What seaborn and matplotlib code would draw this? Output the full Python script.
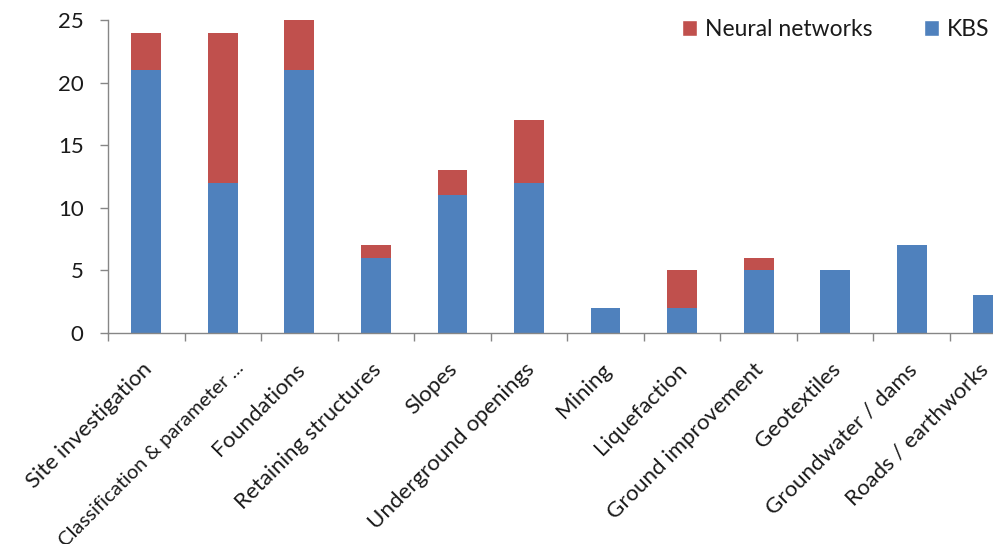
import matplotlib
matplotlib.use("Agg")
import matplotlib.pyplot as plt
import matplotlib.transforms as mtransforms
import seaborn as sns
import pandas as pd
import numpy as np
from matplotlib.patches import Patch

categories = [
    "Site investigation", "Classification & parameter ...", "Foundations",
    "Retaining structures", "Slopes", "Underground openings", "Mining",
    "Liquefaction", "Ground improvement", "Geotextiles",
    "Groundwater / dams", "Roads / earthworks",
]
kbs = [21, 12, 21, 6, 11, 12, 2, 2, 5, 5, 7, 3]
neural_networks = [3, 12, 4, 1, 2, 5, 0, 3, 1, 0, 0, 0]
y_ticks = [0, 5, 10, 15, 20, 25]

BLUE = "#4F81BD"
RED = "#C0504D"
AXIS_GRAY = "#868686"
TEXT = "#1a1a1a"

sns.set_theme(style="white")
plt.rcParams["font.family"] = ["Lato", "DejaVu Sans"]

df = pd.DataFrame({"category": categories, "KBS": kbs, "NN": neural_networks})
df["total"] = df["KBS"] + df["NN"]

fig = plt.figure(figsize=(9.93, 5.44), dpi=100)
ax = fig.add_axes([0.1088, 0.388, 0.925, 0.575])

# stacked look: full totals in red, KBS share drawn over it in blue
sns.barplot(data=df, x="category", y="total", color=RED, width=0.39,
            saturation=1, linewidth=0, ax=ax, order=categories)
sns.barplot(data=df, x="category", y="KBS", color=BLUE, width=0.39,
            saturation=1, linewidth=0, ax=ax, order=categories)

ax.set_xlim(-0.5, len(categories) - 0.5)
ax.set_ylim(0, 25)
ax.set_yticks(y_ticks)
ax.set_xlabel("")
ax.set_ylabel("")

for side in ["top", "right"]:
    ax.spines[side].set_visible(False)
for side in ["left", "bottom"]:
    ax.spines[side].set_color(AXIS_GRAY)
    ax.spines[side].set_linewidth(1)

# category labels sit at bar centres, tick marks fall between categories
ax.set_xticks(np.arange(len(categories)))
ax.set_xticklabels(categories, rotation=45, ha="right", va="top",
                   rotation_mode="anchor", fontsize=16, color=TEXT)
ax.tick_params(axis="x", which="major", length=0, pad=19)
last = len(categories) - 1
for i, lbl in enumerate(ax.get_xticklabels()):
    dx = -5
    if i == 1:
        # the long truncated label is set a touch smaller and nudged right
        lbl.set_fontsize(14.6)
        dx = 12
    elif i == last:
        dx = -10
    shift = mtransforms.ScaledTranslation(dx / 100, 0, fig.dpi_scale_trans)
    lbl.set_transform(lbl.get_transform() + shift)
ax.set_xticks(np.arange(len(categories) + 1) - 0.5, minor=True)
ax.tick_params(axis="x", which="minor", length=5.5, color=AXIS_GRAY, width=1,
               direction="out", bottom=True)
ax.tick_params(axis="y", length=5.5, color=AXIS_GRAY, width=1, direction="out",
               left=True, labelsize=16, labelcolor=TEXT, pad=12)

handles = [Patch(facecolor=RED, label="Neural networks"),
           Patch(facecolor=BLUE, label="KBS")]
fig.legend(handles=handles, loc="upper left", bbox_to_anchor=(0.673, 0.99),
           ncol=2, frameon=False, fontsize=16.5, handlelength=0.65,
           handleheight=0.65, handletextpad=0.35, columnspacing=2.25,
           labelcolor=TEXT, borderaxespad=0.2)

fig.savefig("out.png", dpi=100)
